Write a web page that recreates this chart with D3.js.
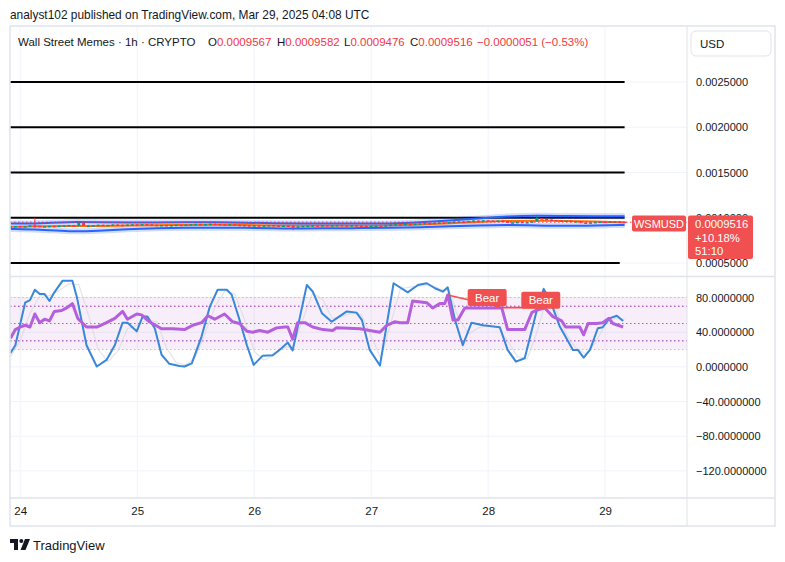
<!DOCTYPE html>
<html>
<head>
<meta charset="utf-8">
<script src="https://cdn.jsdelivr.net/npm/d3@7"></script>
<style>
  body { margin: 0; background: #fff; }
  svg text { font-family: "Liberation Sans", Arial, sans-serif; fill: #131722; }
</style>
</head>
<body>
<script>
// ---- data (hours counted from Mar 24 00:00 UTC) ----
var dayLabels = ["24", "25", "26", "27", "28", "29"];
var dayHours = [0, 24, 48, 72, 96, 120];
var priceTicks = [0.0025, 0.0020, 0.0015, 0.0010, 0.0005];
var levelLines = [0.0025, 0.0020, 0.0015, 0.0010, 0.0005];
var levelEnds = [124, 124, 124, 124, 123];
var stochTicks = [80, 40, 0, -40, -80, -120];

// hourly closes in units of 1e-7, first bar at hour -2
var firstHour = -2;
var firstOpen = 9000;
var closes = [
  9050, 9080, 9020, 9060, 9150, 9100, 9040, 9070, 9110, 9090, 9130, 9160,
  9200, 9140, 9450, 9080, 9120, 9180, 9230, 9170, 9210, 9260, 9220, 9190,
  9240, 9280, 9250, 9300, 9270, 9220, 9180, 9200, 9160, 9190, 9230, 9210,
  9250, 9290, 9320, 9280, 9300, 9340, 9310, 9280, 9250, 9270, 9230, 9200,
  9180, 9150, 9170, 9130, 9160, 9190, 9150, 9120, 9140, 9100, 8900, 9050,
  9100, 9130, 9160, 9140, 9180, 9150, 9170, 9200, 9160, 9140, 9180, 9150,
  9120, 9100, 9130, 9150, 9120, 9180, 9230, 9280, 9260, 9310, 9290, 9350,
  9380, 9420, 9400, 9450, 9480, 9440, 9520, 9560, 9600, 9580, 9650, 9700,
  9680, 9720, 9690, 9650, 9700, 9600, 9450, 9500, 9550, 9480, 9520, 9600,
  9950, 9880, 9800, 9750, 9700, 9650, 9680, 9600, 9620, 9480, 9420, 9500,
  9540, 9580, 9560, 9600, 9620, 9567, 9516
];
// notable wicks: [hour, high, low]
var wicks = [[3, 9990, 8880], [12, 9600, 9000], [56, 9180, 8620], [89, 9640, 9440], [106, 10320, 9560], [115, 9650, 9400]];

// bollinger-style envelope, read every 6 hours
var bandHours = [-2, 4, 10, 16, 22, 28, 34, 40, 46, 52, 58, 64, 70, 76, 82, 88, 94, 100, 106, 112, 118, 124];
var bandUpper = [9350, 9380, 9550, 9500, 9450, 9480, 9500, 9500, 9450, 9400, 9350, 9380, 9350, 9350, 9500, 9700, 9900, 10150, 10250, 10200, 10150, 10150];
var bandLower = [8750, 8700, 8450, 8550, 8750, 8850, 8900, 8900, 8900, 8850, 8800, 8850, 8850, 8880, 8950, 9050, 9150, 9200, 9150, 9100, 9150, 9200];
var bandMid = [9000, 9050, 9100, 9080, 9150, 9180, 9200, 9230, 9200, 9150, 9120, 9140, 9150, 9150, 9250, 9380, 9550, 9650, 9680, 9650, 9600, 9480];

// oscillator pane: [hour, value]
var stochK = [[-2,16],[-1,25],[1,74],[2,77],[3,89],[4,84],[5,84],[6,76],[7,86],[8.7,99.5],[10.7,99.5],[11.6,81],[13.6,25],[15.7,0.4],[17.7,8],[19.4,25],[21,51],[22,51],[23.9,41],[25.1,58],[26.1,58],[27.6,44.5],[29,14],[30.6,3.5],[32.7,1],[33.7,0.4],[35.2,4],[37.2,35],[38.9,69.5],[40.5,89],[42.4,89],[43.4,83],[45,54],[46.5,25],[47.9,2.3],[49.7,12.7],[51.8,13.5],[53.6,21.5],[54.9,28],[55.9,19],[58.8,94.5],[60,87],[61.9,62],[63.9,52],[64.9,56],[67,64],[69,62.6],[70.1,54],[71.7,19.6],[73.8,1.5],[76.6,96.5],[79.5,86],[81.6,94.5],[83.4,96.5],[85.1,90.7],[86.7,86.8],[87.7,91.8],[89.2,54],[90.8,25],[92.6,51],[94.9,48],[98.4,45.7],[100,19.6],[101.7,6],[103.5,10],[106,65.7],[107.4,90],[108.7,77],[110.7,46.5],[113.4,19.6],[114.4,19.6],[115.6,10.7],[116.9,19.6],[118.5,44.6],[119.5,45.7],[120.9,56],[122.4,59],[123.7,53]];
var stochD = [[-2,12],[0,30],[2,62],[4,82],[6,82],[8,88],[10,96],[12,95],[14,60],[16,20],[18,6],[20,18],[22,44],[24,48],[26,54],[28,52],[30,22],[32,5],[34,2],[36,12],[38,40],[40,70],[42,88],[44,84],[46,55],[48,18],[50,8],[52,13],[54,22],[56,24],[58,55],[60,85],[62,78],[64,56],[66,58],[68,62],[70,60],[72,35],[74,10],[76,50],[78,90],[80,92],[82,93],[84,95],[86,90],[88,88],[90,55],[92,38],[94,45],[96,48],[98,46],[100,30],[102,12],[104,9],[106,40],[108,78],[110,65],[112,38],[114,22],[116,15],[118,28],[120,48],[122,56],[124,55]];
var rsiLine = [[-2,33],[-1,43],[0,46],[1,48],[2,46],[3,61],[4,51],[5,55],[6,53],[7,64],[8.5,65],[9.5,68],[10.7,73],[11.8,56],[13.6,46],[15.7,46],[17.7,51],[19.4,56],[21,64],[22,55],[23.9,61],[24.9,60],[26.5,52],[29,44],[31.3,44],[33.7,43],[35.4,48],[37.2,51],[38.5,59],[39.9,55],[41.9,61],[43.6,52],[45,50],[46.5,41],[47.7,40],[49.1,42],[50.8,40],[52.6,45],[54.3,46],[54.9,46],[55.9,32],[56.9,51],[58.4,51],[60,46],[62.1,43],[64.1,42],[64.9,45],[69.7,44],[71.7,42],[73.8,40],[75.2,48],[76.8,52],[77.9,51],[79.5,51],[80.5,76],[83.4,74],[84.6,68],[86.1,73],[87.1,73],[87.7,83],[88.8,54],[89.8,54],[91.2,68],[98.8,68],[100,43],[101.5,43],[103.5,43],[105,63],[106.2,66],[107.6,68],[109.3,58],[111.1,53],[111.9,46],[113.4,46],[114.8,46],[115.6,37],[116.5,50],[118.3,50],[119.5,51],[120.8,56],[121.6,50],[123.7,46]];
var bearLines = [[87.7, 83, 98.8, 68.4], [98.8, 68.4, 107.6, 68.4]];
var bearLabels = [[95.8, 80], [106.8, 77]];

// ---- layout ----
var W = 785, H = 562;
var frame = {left: 10, right: 775, top: 26, bottom: 526};
var axisX = 687;
var pricePane = {top: 27, bottom: 276};
var stochPane = {top: 277, bottom: 498};
var red = "#f23645", green = "#089981", gridCol = "#f0f3fa", borderCol = "#e0e3eb";

var svg = d3.select("body").append("svg").attr("width", W).attr("height", H);

var x = d3.scaleLinear().domain([-2.1, 136.8]).range([frame.left, axisX]);
var yP = d3.scaleLinear().domain([0.000356, 0.003108]).range([pricePane.bottom, pricePane.top]);
var yS = d3.scaleLinear().domain([-151.3, 103.7]).range([stochPane.bottom, stochPane.top]);
var unit = 1e-7;

var defs = svg.append("defs");
defs.append("clipPath").attr("id", "clipP").append("rect")
  .attr("x", frame.left).attr("y", pricePane.top).attr("width", axisX - frame.left).attr("height", pricePane.bottom - pricePane.top);
defs.append("clipPath").attr("id", "clipS").append("rect")
  .attr("x", frame.left).attr("y", stochPane.top).attr("width", axisX - frame.left).attr("height", stochPane.bottom - stochPane.top);

// header
svg.append("text").attr("x", 10).attr("y", 19).attr("font-size", 11.9)
  .text("analyst102 published on TradingView.com, Mar 29, 2025 04:08 UTC");

// grid
var grid = svg.append("g");
grid.selectAll(".vg").data(dayHours).enter().append("line")
  .attr("x1", d => x(d)).attr("x2", d => x(d))
  .attr("y1", pricePane.top).attr("y2", stochPane.bottom)
  .attr("stroke", gridCol).attr("stroke-width", 1);
grid.selectAll(".hp").data(priceTicks).enter().append("line")
  .attr("x1", frame.left).attr("x2", axisX).attr("y1", d => yP(d)).attr("y2", d => yP(d))
  .attr("stroke", gridCol);
grid.selectAll(".hs").data(stochTicks).enter().append("line")
  .attr("x1", frame.left).attr("x2", axisX).attr("y1", d => yS(d)).attr("y2", d => yS(d))
  .attr("stroke", gridCol);

// ---- price pane ----
var pg = svg.append("g").attr("clip-path", "url(#clipP)");

pg.selectAll(".lvl").data(levelLines).enter().append("line")
  .attr("x1", frame.left).attr("x2", (d, i) => x(levelEnds[i]))
  .attr("y1", d => yP(d)).attr("y2", d => yP(d))
  .attr("stroke", "#000").attr("stroke-width", 2);

var bandLine = function(arr) {
  return d3.line().curve(d3.curveBasis)
    .x((d, i) => x(bandHours[i])).y(d => yP(d * unit))(arr);
};
[bandUpper, bandLower].forEach(function(arr) {
  pg.append("path").attr("d", bandLine(arr)).attr("fill", "none")
    .attr("stroke", "rgba(41,98,255,0.22)").attr("stroke-width", 6);
});
pg.append("path").attr("d", bandLine(bandMid)).attr("fill", "none")
  .attr("stroke", "#ff6d00").attr("stroke-width", 2);
[bandUpper, bandLower].forEach(function(arr) {
  pg.append("path").attr("d", bandLine(arr)).attr("fill", "none")
    .attr("stroke", "#2962ff").attr("stroke-width", 2);
});

// candles
var candles = closes.map(function(c, i) {
  var o = i === 0 ? firstOpen : closes[i - 1];
  var h = firstHour + i;
  var w = wicks.find(k => k[0] === h);
  return {h: h, o: o, c: c, hi: w ? w[1] : Math.max(o, c), lo: w ? w[2] : Math.min(o, c)};
});
var cg = pg.append("g");
cg.selectAll(".wick").data(candles).enter().append("line")
  .attr("x1", d => x(d.h)).attr("x2", d => x(d.h))
  .attr("y1", d => yP(d.hi * unit)).attr("y2", d => yP(d.lo * unit))
  .attr("stroke", d => d.c >= d.o ? green : red).attr("stroke-width", 1);
cg.selectAll(".body").data(candles).enter().append("rect")
  .attr("x", d => x(d.h) - 1.5).attr("width", 3)
  .attr("y", d => yP(Math.max(d.o, d.c) * unit))
  .attr("height", d => Math.max(1.5, yP(Math.min(d.o, d.c) * unit) - yP(Math.max(d.o, d.c) * unit)))
  .attr("fill", d => d.c >= d.o ? green : red);

// last price dotted line
var last = closes[closes.length - 1] * unit;
svg.append("line").attr("x1", frame.left).attr("x2", axisX)
  .attr("y1", yP(last)).attr("y2", yP(last))
  .attr("stroke", red).attr("stroke-width", 1).attr("stroke-dasharray", "1.5,2.5");

// legend
var legend = svg.append("g").attr("font-size", 11.5);
legend.append("text").attr("x", 18).attr("y", 46).text("Wall Street Memes · 1h · CRYPTO");
var ohlc = [["O", "0.0009567", 208], ["H", "0.0009582", 277], ["L", "0.0009476", 344], ["C", "0.0009516", 410]];
ohlc.forEach(function(d) {
  var t = legend.append("text").attr("x", d[2]).attr("y", 46);
  t.append("tspan").text(d[0]);
  t.append("tspan").style("fill", red).text(d[1]);
});
legend.append("text").attr("x", 477).attr("y", 46).style("fill", red).text("−0.0000051 (−0.53%)");

// ---- oscillator pane ----
var sg = svg.append("g").attr("clip-path", "url(#clipS)");
sg.append("rect").attr("x", frame.left).attr("width", axisX - frame.left)
  .attr("y", yS(80)).attr("height", yS(20) - yS(80)).attr("fill", "rgba(156,39,176,0.08)");
[[80, "#f5c518"], [20, "#f5c518"], [70, "#8e24aa"], [30, "#8e24aa"], [50, "#787b86"]].forEach(function(b) {
  sg.append("line").attr("x1", frame.left).attr("x2", axisX).attr("y1", yS(b[0])).attr("y2", yS(b[0]))
    .attr("stroke", b[1]).attr("stroke-width", 1).attr("stroke-dasharray", "1.5,2.5");
});
var oscLine = d3.line().x(d => x(d[0])).y(d => yS(d[1]));
sg.append("path").attr("d", oscLine(stochD)).attr("fill", "none")
  .attr("stroke", "#d1d4dc").attr("stroke-width", 1.2).attr("opacity", 0.6);
sg.append("path").attr("d", oscLine(stochK)).attr("fill", "none")
  .attr("stroke", "#3a86d8").attr("stroke-width", 2).attr("stroke-linejoin", "round");
sg.append("path").attr("d", oscLine(rsiLine)).attr("fill", "none")
  .attr("stroke", "#b55fdc").attr("stroke-width", 3).attr("stroke-linejoin", "round");

bearLines.forEach(function(l) {
  sg.append("line").attr("x1", x(l[0])).attr("y1", yS(l[1])).attr("x2", x(l[2])).attr("y2", yS(l[3]))
    .attr("stroke", "#f0504f").attr("stroke-width", 1.6);
});
bearLabels.forEach(function(b) {
  var g = svg.append("g").attr("transform", `translate(${x(b[0])},${yS(b[1])})`);
  g.append("rect").attr("x", -19.5).attr("y", -8.5).attr("width", 39).attr("height", 17).attr("rx", 2)
    .attr("fill", "#f0504f");
  g.append("text").attr("text-anchor", "middle").attr("y", 4).attr("font-size", 11.5)
    .style("fill", "#fff").text("Bear");
});

// ---- axes ----
var fmt = d3.format(".7f");
var pAxis = svg.append("g").attr("transform", `translate(${axisX},0)`)
  .call(d3.axisRight(yP).tickValues(priceTicks).tickFormat(fmt).tickSize(0).tickPadding(9));
var sAxis = svg.append("g").attr("transform", `translate(${axisX},0)`)
  .call(d3.axisRight(yS).tickValues(stochTicks).tickFormat(fmt).tickSize(0).tickPadding(9));
var tAxis = svg.append("g").attr("transform", `translate(0,${stochPane.bottom})`)
  .call(d3.axisBottom(x).tickValues(dayHours).tickFormat((d, i) => dayLabels[i]).tickSize(0).tickPadding(9));
[pAxis, sAxis, tAxis].forEach(function(a) {
  a.select(".domain").remove();
  a.selectAll("text").attr("font-size", 11).attr("font-family", null).style("fill", "#131722");
});
tAxis.selectAll("text").attr("font-size", 11.5);

// pane separators & frame
svg.append("line").attr("x1", frame.left).attr("x2", frame.right).attr("y1", 276.5).attr("y2", 276.5)
  .attr("stroke", borderCol).attr("stroke-width", 1.5);
svg.append("line").attr("x1", frame.left).attr("x2", frame.right).attr("y1", stochPane.bottom).attr("y2", stochPane.bottom)
  .attr("stroke", borderCol).attr("stroke-width", 1.5);
svg.append("line").attr("x1", axisX).attr("x2", axisX).attr("y1", frame.top).attr("y2", frame.bottom)
  .attr("stroke", borderCol).attr("stroke-width", 1);
svg.append("rect").attr("x", frame.left).attr("y", frame.top)
  .attr("width", frame.right - frame.left).attr("height", frame.bottom - frame.top)
  .attr("fill", "none").attr("stroke", borderCol).attr("stroke-width", 1.5);

// USD box
svg.append("rect").attr("x", 691).attr("y", 31).attr("width", 80).attr("height", 25).attr("rx", 5)
  .attr("fill", "#fff").attr("stroke", "#e0e3eb");
svg.append("text").attr("x", 700).attr("y", 47.5).attr("font-size", 11.5).text("USD");

// last price tags
var ly = yP(last);
svg.append("rect").attr("x", 632).attr("y", ly - 6.5).attr("width", 54).attr("height", 16).attr("rx", 2).attr("fill", "#f0504f");
svg.append("text").attr("x", 659).attr("y", ly + 5.5).attr("text-anchor", "middle").attr("font-size", 11)
  .style("fill", "#fff").text("WSMUSD");
svg.append("rect").attr("x", 688).attr("y", ly - 6.5).attr("width", 65).attr("height", 43.5).attr("rx", 2).attr("fill", "#f0504f");
[["0.0009516", 5.5], ["+10.18%", 19.5], ["51:10", 33]].forEach(function(t) {
  svg.append("text").attr("x", 695).attr("y", ly + t[1]).attr("font-size", 11.3).style("fill", "#fff").text(t[0]);
});

// TradingView logo
var logo = svg.append("g").attr("transform", "translate(10,539)");
logo.append("path").attr("d", "M0,0 H8 V11 H4 V4 H0 Z").attr("fill", "#131722");
logo.append("circle").attr("cx", 11.3).attr("cy", 2).attr("r", 2).attr("fill", "#131722");
logo.append("path").attr("d", "M15,0 H20 L15.5,11 H10.5 Z").attr("fill", "#131722");
svg.append("text").attr("x", 33).attr("y", 550).attr("font-size", 13).text("TradingView");
</script>
</body>
</html>
